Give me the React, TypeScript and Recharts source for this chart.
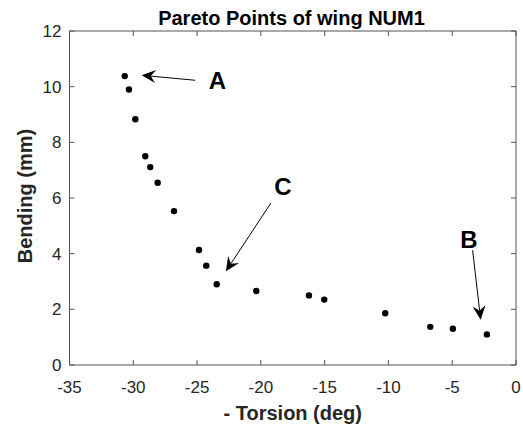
import React from 'react';
import {
  ScatterChart,
  Scatter,
  XAxis,
  YAxis,
  ReferenceLine,
  ReferenceDot,
} from 'recharts';

// Pareto front
const torsion = [-30.67, -30.34, -29.84, -29.06, -28.67, -28.09, -26.81, -24.85, -24.28, -23.46, -20.36, -16.23, -15.03, -10.25, -6.72, -4.95, -2.28];
const bending = [10.38, 9.9, 8.83, 7.5, 7.11, 6.55, 5.53, 4.13, 3.57, 2.9, 2.66, 2.5, 2.35, 1.86, 1.37, 1.3, 1.1];

const xTicks = [-35, -30, -25, -20, -15, -10, -5, 0];
const yTicks = [0, 2, 4, 6, 8, 10, 12];

// annotations (data units)
const noteLabels = ['A', 'C', 'B'];
const noteTextAt = [[-23.4, 9.93], [-18.27, 6.1], [-3.69, 4.22]];
const arrowFrom = [[-25.16, 10.23], [-19.21, 5.82], [-3.4, 4.12]];
const arrowTo = [[-29.34, 10.41], [-22.74, 3.37], [-2.77, 1.63]];

const points = torsion.map((x, i) => ({ x, y: bending[i] }));

const FONT = '"Liberation Sans", Arial, Helvetica, sans-serif';
const AXIS = '#555';
const TEXT = '#262626';
const TICK_LEN = 5;

const BottomTick = ({ x, y, payload }: any) => {
  const axisY = y - 16;
  return (
    <g>
      <line x1={x} y1={axisY} x2={x} y2={axisY - TICK_LEN} stroke={AXIS} />
      <text x={x} y={y} dy="0.71em" textAnchor="middle" fontSize={17} fill={TEXT} fontFamily={FONT}>
        {payload.value}
      </text>
    </g>
  );
};

const LeftTick = ({ x, y, payload }: any) => {
  const axisX = x + 8;
  return (
    <g>
      <line x1={axisX} y1={y} x2={axisX + TICK_LEN} y2={y} stroke={AXIS} />
      <text x={x} y={y} dy="0.355em" textAnchor="end" fontSize={17} fill={TEXT} fontFamily={FONT}>
        {payload.value}
      </text>
    </g>
  );
};

const TopTick = ({ x, y }: any) => (
  <line x1={x} y1={y} x2={x} y2={y + TICK_LEN} stroke={AXIS} />
);

const RightTick = ({ x, y }: any) => (
  <line x1={x} y1={y} x2={x - TICK_LEN} y2={y} stroke={AXIS} />
);

const Arrow = ({ x1, y1, x2, y2 }: any) => {
  const a = Math.atan2(y2 - y1, x2 - x1);
  const L = 14;
  const W = 6.5;
  const N = 9;
  const cos = Math.cos(a);
  const sin = Math.sin(a);
  const px = (along: number, side: number) => x2 - along * cos - side * sin;
  const py = (along: number, side: number) => y2 - along * sin + side * cos;
  const head = [
    [x2, y2],
    [px(L, W), py(L, W)],
    [px(N, 0), py(N, 0)],
    [px(L, -W), py(L, -W)],
  ]
    .map((p) => p.join(','))
    .join(' ');
  return (
    <g>
      <line x1={x1} y1={y1} x2={px(N, 0)} y2={py(N, 0)} stroke="#000" strokeWidth={1} />
      <polygon points={head} fill="#000" />
    </g>
  );
};

const Dot = ({ cx, cy }: any) => <circle cx={cx} cy={cy} r={3.2} fill="#000" />;
const NoDot = () => <g />;

export default function App() {
  return (
    <div style={{ position: 'absolute', left: 0, top: 0, background: '#fff' }}>
      <ScatterChart width={523} height={425} margin={{ top: 30, right: 6, bottom: 0, left: 0 }}>
        <XAxis
          type="number"
          dataKey="x"
          domain={[-35, 0]}
          ticks={xTicks}
          height={60}
          tickSize={0}
          tickMargin={16}
          tickLine={false}
          axisLine={{ stroke: AXIS }}
          tick={<BottomTick />}
          interval={0}
          label={{
            value: '- Torsion (deg)',
            position: 'insideBottom',
            offset: 5,
            fontSize: 20,
            fontWeight: 'bold',
            fill: TEXT,
            fontFamily: FONT,
          }}
        />
        <XAxis
          xAxisId="top"
          orientation="top"
          type="number"
          dataKey="x"
          domain={[-35, 0]}
          ticks={xTicks}
          height={1}
          tickSize={0}
          tickMargin={0}
          tickLine={false}
          axisLine={{ stroke: AXIS }}
          tick={<TopTick />}
          interval={0}
        />
        <YAxis
          type="number"
          dataKey="y"
          domain={[0, 12]}
          ticks={yTicks}
          width={69.5}
          tickSize={0}
          tickMargin={8}
          tickLine={false}
          axisLine={{ stroke: AXIS }}
          tick={<LeftTick />}
          interval={0}
        />
        <YAxis
          yAxisId="right"
          orientation="right"
          type="number"
          dataKey="y"
          domain={[0, 12]}
          ticks={yTicks}
          width={1}
          tickSize={0}
          tickMargin={0}
          tickLine={false}
          axisLine={{ stroke: AXIS }}
          tick={<RightTick />}
          interval={0}
        />
        {/* invisible twin series so the mirrored box axes get drawn */}
        <Scatter data={points} xAxisId="top" yAxisId="right" shape={<NoDot />} isAnimationActive={false} />
        <Scatter data={points} shape={<Dot />} isAnimationActive={false} />
        {noteLabels.map((name, i) => (
          <ReferenceLine
            key={`arrow-${name}`}
            segment={[
              { x: arrowFrom[i][0], y: arrowFrom[i][1] },
              { x: arrowTo[i][0], y: arrowTo[i][1] },
            ]}
            shape={(p: any) => <Arrow {...p} />}
          />
        ))}
        {noteLabels.map((name, i) => (
          <ReferenceDot
            key={`label-${name}`}
            x={noteTextAt[i][0]}
            y={noteTextAt[i][1]}
            shape={(p: any) => (
              <text x={p.cx} y={p.cy} textAnchor="middle" fontSize={24} fontWeight="bold" fill="#000" fontFamily={FONT}>
                {name}
              </text>
            )}
          />
        ))}
        <text x={291.5} y={25} textAnchor="middle" fontSize={20} fontWeight="bold" fill="#000" fontFamily={FONT}>
          Pareto Points of wing NUM1
        </text>
        <text
          transform="translate(32,196) rotate(-90)"
          x={0}
          y={0}
          textAnchor="middle"
          fontSize={20}
          fontWeight="bold"
          fill={TEXT}
          fontFamily={FONT}
        >
          Bending (mm)
        </text>
      </ScatterChart>
    </div>
  );
}
